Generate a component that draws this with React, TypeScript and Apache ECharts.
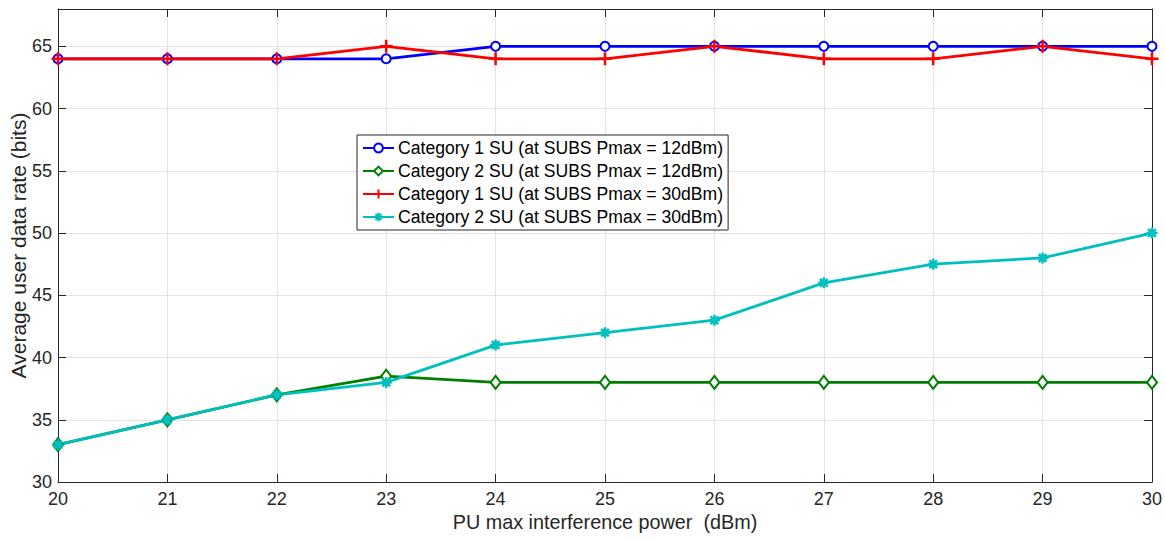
import React, { useEffect, useRef } from "react";
import * as echarts from "echarts";

const xValues = [20, 21, 22, 23, 24, 25, 26, 27, 28, 29, 30];
const cat1Low = [64, 64, 64, 64, 65, 65, 65, 65, 65, 65, 65];
const cat2Low = [33, 35, 37, 38.5, 38, 38, 38, 38, 38, 38, 38];
const cat1High = [64, 64, 64, 65, 64, 64, 65, 64, 64, 65, 64];
const cat2High = [33, 35, 37, 38, 41, 42, 43, 46, 47.5, 48, 50];
const seriesNames = [
  "Category 1 SU (at SUBS Pmax = 12dBm)",
  "Category 2 SU (at SUBS Pmax = 12dBm)",
  "Category 1 SU (at SUBS Pmax = 30dBm)",
  "Category 2 SU (at SUBS Pmax = 30dBm)",
];

const FONT = "'Liberation Sans', Arial, Helvetica, sans-serif";
const plusPath = "path://M0,-10L0,10M-10,0L10,0";
const starPath = "path://M0,-10L0,10M-10,0L10,0M-7,-7L7,7M-7,7L7,-7";

export default function App() {
  const ref = useRef<HTMLDivElement>(null);
  useEffect(() => {
    if (!ref.current) return;
    const chart = echarts.init(ref.current, null, { renderer: "svg" });
    const pair = (arr: number[]) => xValues.map((x, i) => [x, arr[i]]);
    const mk = (
      name: string,
      data: number[],
      color: string,
      symbol: string,
      size: number | number[],
      bw: number
    ) => ({
      name,
      type: "line",
      data: pair(data),
      symbol,
      symbolSize: size,
      showAllSymbol: true,
      lineStyle: { color, width: 2.8 },
      itemStyle: { color, borderColor: color, borderWidth: bw },
      emphasis: { disabled: true },
      z: 3,
    });
    const tickStyle = { show: true, inside: true, length: 8, lineStyle: { color: "#262626" } };
    const lineStyle = { show: true, lineStyle: { color: "#262626", width: 1 } };
    chart.setOption({
      animation: false,
      textStyle: { fontFamily: FONT },
      grid: {
        left: 58,
        right: 13,
        top: 9,
        bottom: 59,
        containLabel: false,
        outerBoundsMode: "none",
      },
      legend: {
        orient: "vertical",
        left: 357,
        top: 135,
        backgroundColor: "#fff",
        borderColor: "#262626",
        borderWidth: 1,
        padding: [3, 5, 3, 5],
        itemGap: 3,
        itemWidth: 31,
        itemHeight: 11,
        textStyle: { fontSize: 17.6, lineHeight: 20, color: "#000", fontFamily: FONT, padding: [0, 0, 0, -1] },
        data: seriesNames,
      },
      xAxis: [
        {
          type: "value",
          min: 20,
          max: 30,
          interval: 1,
          name: "PU max interference power  (dBm)",
          nameLocation: "middle",
          nameGap: 30,
          nameMoveOverlap: false,
          nameTextStyle: { fontSize: 19.8, color: "#262626" },
          axisLine: lineStyle,
          axisTick: tickStyle,
          axisLabel: { fontSize: 18, color: "#262626", margin: 8 },
          splitLine: { show: true, lineStyle: { color: "#e3e3e3", width: 1 } },
        },
        {
          type: "value",
          position: "top",
          min: 20,
          max: 30,
          interval: 1,
          axisLine: lineStyle,
          axisTick: tickStyle,
          axisLabel: { show: false },
          splitLine: { show: false },
        },
      ],
      yAxis: [
        {
          type: "value",
          min: 30,
          max: 68,
          interval: 5,
          name: "Average user data rate (bits)",
          nameLocation: "middle",
          nameGap: 29,
          nameMoveOverlap: false,
          nameTextStyle: { fontSize: 21, color: "#262626" },
          axisLine: lineStyle,
          axisTick: tickStyle,
          axisLabel: {
            fontSize: 18,
            color: "#262626",
            margin: 6,
            formatter: (v: number) => (v % 5 === 0 ? String(v) : ""),
          },
          splitLine: { show: true, lineStyle: { color: "#e3e3e3", width: 1 } },
        },
        {
          type: "value",
          position: "right",
          min: 30,
          max: 68,
          interval: 5,
          axisLine: lineStyle,
          axisTick: tickStyle,
          axisLabel: { show: false },
          splitLine: { show: false },
        },
      ],
      series: [
        mk(seriesNames[0], cat1Low, "#0000ff", "emptyCircle", 9, 2.5),
        mk(seriesNames[1], cat2Low, "#008000", "emptyDiamond", [10, 13], 2.5),
        mk(seriesNames[2], cat1High, "#ff0000", plusPath, 13, 2.5),
        mk(seriesNames[3], cat2High, "#00bfbf", starPath, 11, 2.5),
      ],
    });
    return () => chart.dispose();
  }, []);
  return (
    <div
      ref={ref}
      style={{ position: "fixed", left: 0, top: 0, width: 1165, height: 541, background: "#fff" }}
    />
  );
}
